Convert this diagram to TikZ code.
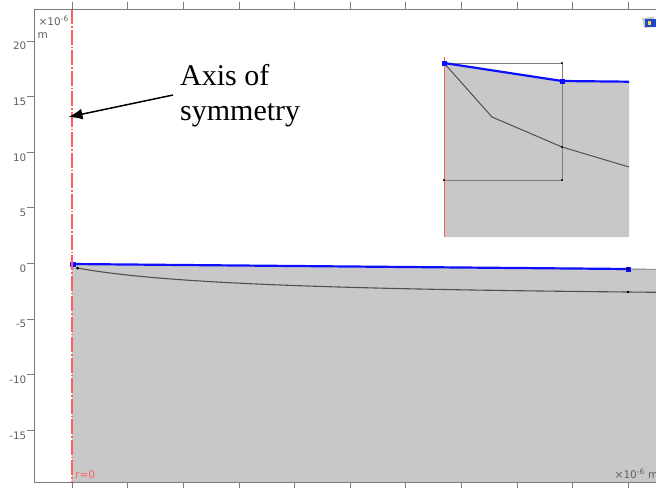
\documentclass[tikz,border=0pt]{standalone}
\usepackage{fontspec}
\setmainfont{DejaVu Sans}
\newfontfamily\annfont{Liberation Serif}
\usetikzlibrary{arrows.meta}
\definecolor{regiongray}{RGB}{200,200,200}
\definecolor{axisgray}{RGB}{95,95,95}
\definecolor{framegray}{RGB}{125,125,125}
\definecolor{symred}{RGB}{255,95,95}
\definecolor{edgeblue}{RGB}{15,15,255}
\definecolor{curvegray}{RGB}{80,80,80}
\definecolor{iconblue}{RGB}{30,70,200}
\definecolor{iconyellow}{RGB}{250,220,60}
\tikzset{
  framestyle/.style={draw=framegray, line width=1pt},
  tickstyle/.style={draw=framegray, line width=0.9pt},
  ticklabel/.style={text=axisgray, font=\fontsize{10.3}{12}\selectfont, inner sep=0pt},
  unitlabel/.style={text=axisgray, font=\fontsize{10.5}{12}\selectfont, inner sep=0pt},
  symaxis/.style={draw=symred, line width=1.1pt, dash pattern=on 15pt off 2pt on 1.5pt off 2pt},
  blueedge/.style={draw=edgeblue, line width=2.2pt},
  darkcurve/.style={draw=curvegray, line width=1.1pt},
  bluemark/.style={fill=edgeblue, draw=none},
  blackdot/.style={fill=black, draw=none},
  anntext/.style={font=\annfont\fontsize{30}{35}\selectfont, align=left, inner sep=0pt},
}
\begin{document}
\begin{tikzpicture}[x=1pt,y=-1pt]
\useasboundingbox (0,0) rectangle (656,488);
\begin{scope}
\clip (0,0) rectangle (656,488);
% main region
\fill[regiongray] (72,264) -- (628,269) -- (656,269.3) -- (656,482) -- (72,482) -- cycle;
\draw[framegray, line width=0.9pt] (628,269) -- (656,269.3);
\draw[darkcurve] (77,268) .. controls (160,283) and (320,289) .. (628,292) -- (656,292.3);
\draw[blueedge] (72,264) -- (628,269);
\fill[bluemark] (69.5,261.5) rectangle (75.5,267);
\fill[bluemark] (625.5,266.5) rectangle (630.5,271.5);
\fill[blackdot] (628,269) circle (1.3);
\fill[blackdot] (72,268.5) circle (1.3);
\fill[blackdot] (77.5,268) circle (1.5);
\fill[blackdot] (628,292) circle (1.3);
% symmetry axis
\draw[symaxis] (72,9) -- (72,482);
% frame and ticks
\draw[framestyle] (656,9) -- (34,9) -- (34,482) -- (656,482);
\foreach \i in {0,...,10} {
  \draw[tickstyle] ({72+55.65*\i},1.5) -- ({72+55.65*\i},9);
  \draw[tickstyle] ({72+55.65*\i},482) -- ({72+55.65*\i},488);
}
\foreach \v/\t in {4/20,3/15,2/10,1/5,0/0,-1/-5,-2/-10,-3/-15} {
  \draw[tickstyle] (27,{263.5-55.6*\v}) -- (34,{263.5-55.6*\v});
  \node[ticklabel, anchor=north east] (yl\t) at (26.5,{264.5-55.6*\v}) {\t};
}
\node[unitlabel, anchor=base west] (unitx) at (38.5,25.5) {×10\textsuperscript{-6}};
\node[unitlabel, anchor=base west] (unitm) at (37.5,38.5) {m};
\node[unitlabel, anchor=base west, text=symred] (rzero) at (75,478.5) {r=0};
\node[unitlabel, anchor=base west] (unitbr) at (614.5,478.5) {×10\textsuperscript{-6} m};
% icon
\fill[gray!40] (642,18) -- (654,16.5) -- (656,27) -- (644,28) -- cycle;
\fill[iconblue] (645,18.5) rectangle (656,26.5);
\fill[iconyellow] (647.5,20.5) rectangle (651,25);
% inset
\fill[regiongray] (444,63) -- (562,81) -- (629,81.7) -- (629,237) -- (444,237) -- cycle;
\draw[framegray, line width=0.9pt] (444,63) -- (562,63) -- (562,180) -- (444,180);
\draw[darkcurve, line width=1pt] (444,63) -- (492,117) -- (562,147) -- (629,167);
\draw[symred, line width=1pt] (444,57) -- (444,237);
\draw[blueedge] (444,63) -- (562,81) -- (629,81.7);
\fill[bluemark] (441.5,60.5) rectangle (447,65.5);
\fill[bluemark] (560,79) rectangle (564.5,83.5);
\fill[blackdot] (562,63) circle (1.2);
\fill[blackdot] (562,147) circle (1.2);
\fill[blackdot] (562,180) circle (1.2);
\fill[blackdot] (444,180) circle (1.2);
% annotation
\node[anntext, anchor=north west] (axis) at (180,64.5) {Axis of\\symmetry};
\coordinate (tip) at (68.5,117);
\draw[line width=1.5pt, -{Latex[length=14pt,width=11pt]}] ([xshift=-7pt,yshift=1pt]axis.west) -- (tip);
\end{scope}
\end{tikzpicture}
\end{document}
